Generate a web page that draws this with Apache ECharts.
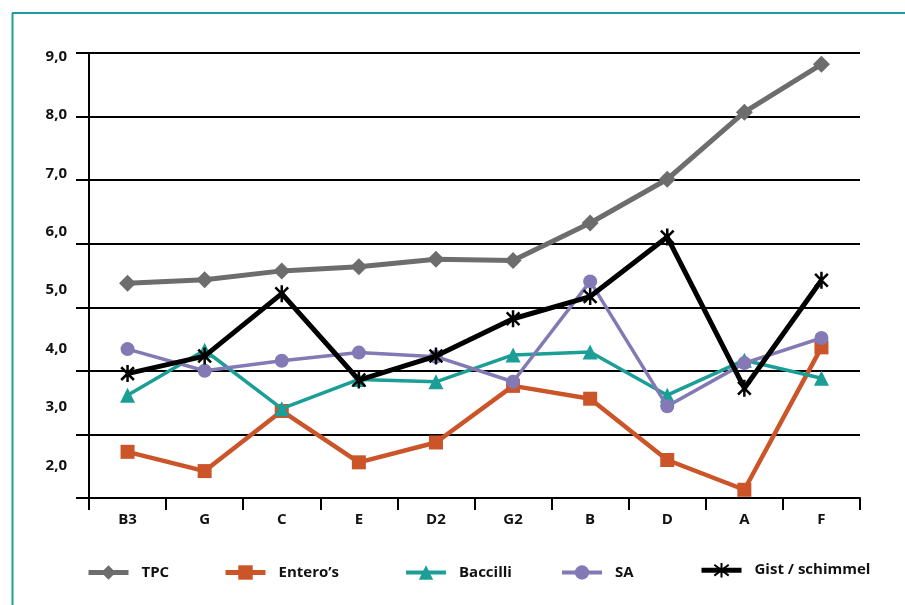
<!DOCTYPE html>
<html>
<head>
<meta charset="utf-8">
<script src="https://cdn.jsdelivr.net/npm/echarts@6/dist/echarts.min.js"></script>
<style>
html,body{margin:0;padding:0;background:#fff;}
#chart{width:905px;height:605px;}
</style>
</head>
<body>
<div id="chart"></div>
<script>
var categories = ['B3','G','C','E','D2','G2','B','D','A','F'];
var tpc      = [5.12, 5.18, 5.33, 5.40, 5.53, 5.51, 6.15, 6.90, 8.05, 8.87];
var entero   = [2.23, 1.90, 2.93, 2.05, 2.39, 3.36, 3.14, 2.09, 1.58, 4.02];
var baccilli = [3.20, 3.97, 2.97, 3.47, 3.43, 3.89, 3.94, 3.20, 3.80, 3.49];
var sa       = [3.99, 3.62, 3.79, 3.93, 3.86, 3.43, 5.15, 3.01, 3.75, 4.18];
var gist     = [3.57, 3.87, 4.94, 3.46, 3.87, 4.51, 4.89, 5.91, 3.32, 5.17];
var yTickLabels = [2, 3, 4, 5, 6, 7, 8, 9];
var seriesNames = ['TPC', 'Entero\u2019s', 'Baccilli', 'SA', 'Gist / schimmel'];

var FONT = '"Open Sans", "Noto Sans", sans-serif';
var asterisk = 'path://M0,-10L0,10M-7.5,-7.5L7.5,7.5M-7.5,7.5L7.5,-7.5M0,-10';

var chart = echarts.init(document.getElementById('chart'), null, {renderer: 'canvas'});

function legendAt(name, left, top, lw) {
  return {
    data: [name], left: left, top: top, orient: 'horizontal',
    itemWidth: 40, itemHeight: 18, itemGap: 0, padding: 0,
    lineStyle: {width: lw},
    textStyle: {fontFamily: FONT, fontWeight: 'bold', fontSize: 15, color: '#111', padding: [0,0,0,8]},
    selectedMode: false
  };
}

var option = {
  animation: false,
  backgroundColor: '#fff',
  grid: {left: 89, right: 45, top: 53, bottom: 107, containLabel: false},
  legend: [
    legendAt(seriesNames[0], 86, 565, 5),
    legendAt(seriesNames[1], 223, 565, 5),
    legendAt(seriesNames[2], 404, 565, 4),
    legendAt(seriesNames[3], 560, 565, 4),
    legendAt(seriesNames[4], 699, 562, 5)
  ],
  xAxis: {
    type: 'category', data: categories, boundaryGap: true,
    axisLine: {show: true, lineStyle: {color: '#000', width: 2}},
    axisTick: {show: true, interval: 0, length: 12, lineStyle: {color: '#000', width: 2}},
    axisLabel: {interval: 0, margin: 14, fontFamily: FONT, fontWeight: 'bold', fontSize: 15, color: '#111'},
    splitLine: {show: false}
  },
  yAxis: [
    {
      type: 'value', min: 1.439, max: 9.063, position: 'left',
      axisLine: {show: false}, axisTick: {show: false}, splitLine: {show: false},
      axisLabel: {
        customValues: yTickLabels, margin: 22,
        fontFamily: FONT, fontWeight: 'bold', fontSize: 15, color: '#111',
        formatter: function (v) { return v.toFixed(1).replace('.', ','); }
      }
    },
    {
      type: 'value', min: 0, max: 7, interval: 1, position: 'left', offset: 0,
      axisLine: {show: true, lineStyle: {color: '#000', width: 2}},
      axisTick: {show: true, length: 13, lineStyle: {color: '#000', width: 2}},
      axisLabel: {show: false},
      splitLine: {show: true, lineStyle: {color: '#000', width: 2}}
    }
  ],
  series: [
    {name: seriesNames[0], type: 'line', data: tpc, yAxisIndex: 0, z: 2,
     symbol: 'diamond', symbolSize: 17,
     lineStyle: {color: '#6d6d6d', width: 5}, itemStyle: {color: '#6d6d6d'}},
    {name: seriesNames[1], type: 'line', data: entero, yAxisIndex: 0, z: 3,
     symbol: 'rect', symbolSize: 14,
     lineStyle: {color: '#cb5428', width: 4.5}, itemStyle: {color: '#cb5428'}},
    {name: seriesNames[2], type: 'line', data: baccilli, yAxisIndex: 0, z: 4,
     symbol: 'triangle', symbolSize: 15,
     lineStyle: {color: '#1b9e96', width: 3.5}, itemStyle: {color: '#1b9e96'}},
    {name: seriesNames[3], type: 'line', data: sa, yAxisIndex: 0, z: 5,
     symbol: 'circle', symbolSize: 14,
     lineStyle: {color: '#8379b5', width: 3.5}, itemStyle: {color: '#8379b5'}},
    {name: seriesNames[4], type: 'line', data: gist, yAxisIndex: 0, z: 6,
     symbol: asterisk, symbolSize: 17, symbolKeepAspect: true,
     lineStyle: {color: '#000', width: 5},
     itemStyle: {color: '#000', borderColor: '#000', borderWidth: 2.5}}
  ],
  graphic: [
    {type: 'line', shape: {x1: 12.5, y1: 13, x2: 12.5, y2: 605}, style: {stroke: '#1b9e96', lineWidth: 2}, silent: true},
    {type: 'line', shape: {x1: 12, y1: 13, x2: 905, y2: 13}, style: {stroke: '#1b9e96', lineWidth: 2}, silent: true}
  ]
};
chart.setOption(option);
</script>
</body>
</html>
